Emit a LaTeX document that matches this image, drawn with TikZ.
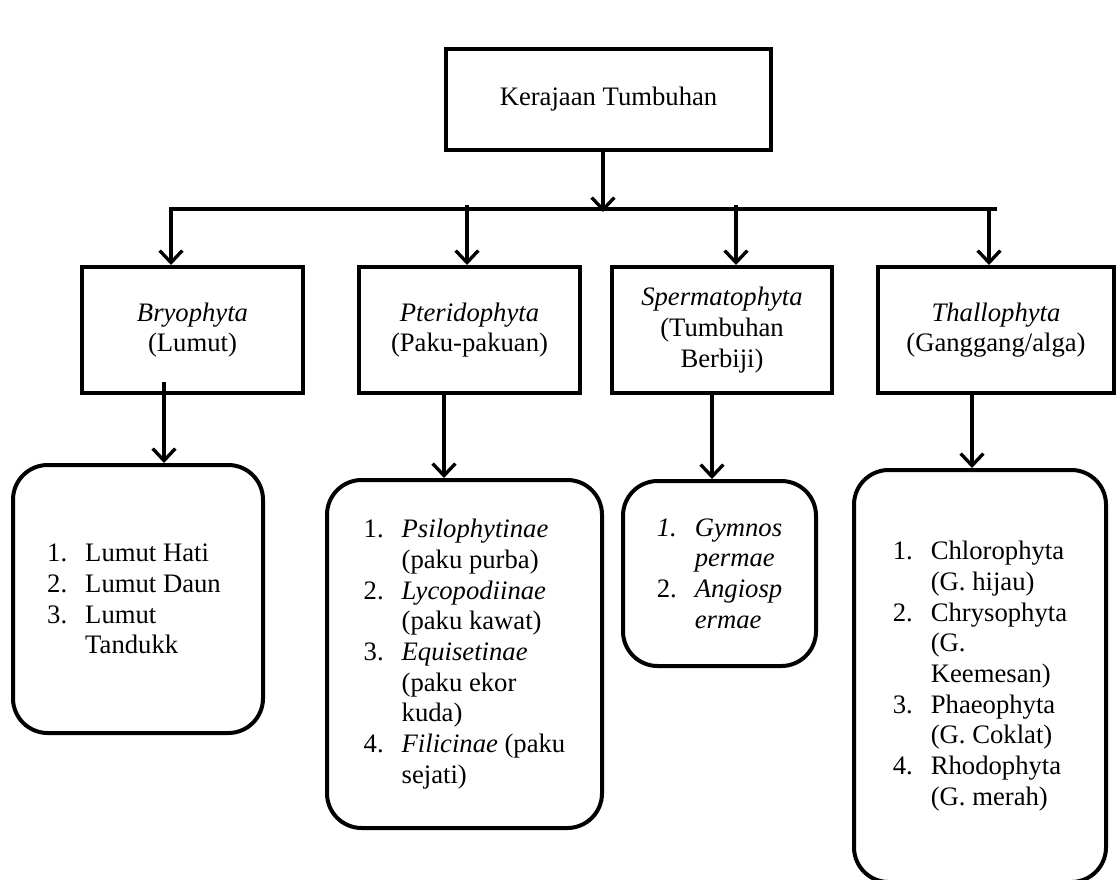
\documentclass[tikz,border=0pt]{standalone}
\usepackage{fontspec}
\setmainfont{Liberation Serif}
\usetikzlibrary{arrows.meta}
\newcommand\numitem[1]{\makebox[28.5pt][l]{#1}}
\newcommand\lindent{\hspace*{28.5pt}}
\begin{document}
\begin{tikzpicture}[x=0.75pt,y=-0.75pt,
  every node/.style={font=\fontsize{20}{23}\selectfont},
  sqbox/.style={draw, line width=3pt, rectangle, align=center, inner sep=0pt, minimum height=94.5pt},
  rbox/.style={draw, line width=3pt, rounded corners=26pt, align=left, inner sep=0pt},
  arr/.style={line width=2.5pt, -{Straight Barb[length=9pt,width=17pt,line width=2.5pt]}},
  bar/.style={line width=3.5pt}]
\clip (0,0) rectangle (1118,879);
\fill[white] (0,0) rectangle (1118,879);

% top
\node[sqbox, minimum width=243.75pt, minimum height=75.75pt] (top) at (608.5,99.5) {Kerajaan Tumbuhan};

% level 2
\node[sqbox, minimum width=165.75pt] (b1) at (192.5,330) {\textit{Bryophyta}\\(Lumut)};
\node[sqbox, minimum width=165.75pt] (b2) at (469.5,330) {\textit{Pteridophyta}\\(Paku-pakuan)};
\node[sqbox, minimum width=165pt] (b3) at (722,330) {\textit{Spermatophyta}\\(Tumbuhan\\Berbiji)};
\node[sqbox, minimum width=177pt] (b4) at (996,330) {\textit{Thallophyta}\\(Ganggang/alga)};

% level 3
\node[rbox, minimum width=187.5pt, minimum height=201pt] (c1) at (138,599)
  {\hspace*{-6pt}\numitem{1.}Lumut Hati\\ \hspace*{-6pt}\numitem{2.}Lumut Daun\\ \hspace*{-6pt}\numitem{3.}Lumut\\ \hspace*{-6pt}\lindent Tandukk};
\node[rbox, minimum width=206.25pt, minimum height=261pt] (c2) at (464.5,654)
  {\numitem{1.}\textit{Psilophytinae}\\ \lindent(paku purba)\\
   \numitem{2.}\textit{Lycopodiinae}\\ \lindent(paku kawat)\\
   \numitem{3.}\textit{Equisetinae}\\ \lindent(paku ekor\\ \lindent kuda)\\
   \numitem{4.}\textit{Filicinae} (paku\\ \lindent sejati)};
\node[rbox, minimum width=144.75pt, minimum height=138.75pt] (c3) at (719.5,573.5)
  {\numitem{\textit{1.}}\textit{Gymnos}\\ \lindent\textit{permae}\\
   \numitem{2.}\textit{Angiosp}\\ \lindent\textit{ermae}};
\node[rbox, minimum width=189pt, minimum height=309pt] (c4) at (980,676)
  {\numitem{1.}Chlorophyta\\ \lindent(G. hijau)\\
   \numitem{2.}Chrysophyta\\ \lindent(G.\\ \lindent Keemesan)\\
   \numitem{3.}Phaeophyta\\ \lindent(G. Coklat)\\
   \numitem{4.}Rhodophyta\\ \lindent(G. merah)};

% connectors top -> bar
\coordinate (j0) at (603,212);
\draw[arr] (top.south -| j0) -- (j0);
\coordinate (barL) at (169,209);
\coordinate (barR) at (997,209);
\draw[bar] (barL) -- (barR);

\coordinate (d1) at (171,207);
\coordinate (d2) at (467,205);
\coordinate (d3) at (736,205);
\coordinate (d4) at (989,207);
\draw[arr] (d1) -- (d1 |- b1.north);
\draw[arr] (d2) -- (d2 |- b2.north);
\draw[arr] (d3) -- (d3 |- b3.north);
\draw[arr] (d4) -- (d4 |- b4.north);

% level 2 -> level 3
\coordinate (e1) at (164,382);
\coordinate (e2) at (444,0);
\coordinate (e3) at (712,0);
\coordinate (e4) at (972,0);
\draw[arr] (e1) -- (e1 |- c1.north);
\draw[arr] (e2 |- b2.south) -- (e2 |- c2.north);
\draw[arr] (e3 |- b3.south) -- (e3 |- c3.north);
\draw[arr] (e4 |- b4.south) -- (e4 |- c4.north);
\end{tikzpicture}
\end{document}
